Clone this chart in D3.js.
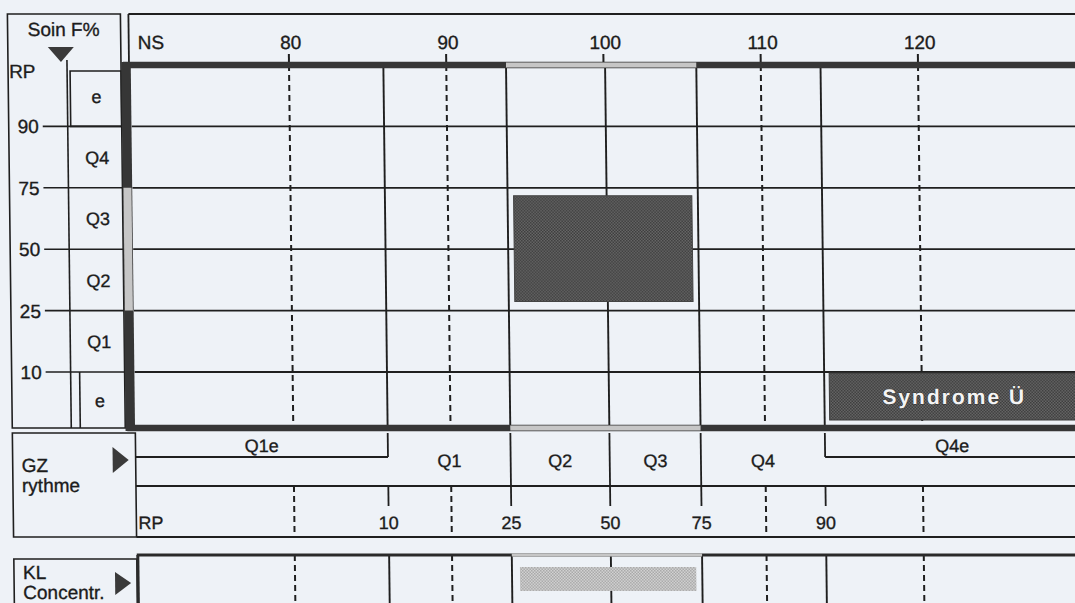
<!DOCTYPE html>
<html>
<head>
<meta charset="utf-8">
<script src="https://cdn.jsdelivr.net/npm/d3@7"></script>
<style>
  html, body { margin: 0; padding: 0; background: #eef2f7; }
  svg { display: block; }
  text { font-family: "Liberation Sans", Arial, sans-serif; fill: #1c1c1c; stroke: #1c1c1c; stroke-width: 0.35px; }
</style>
</head>
<body>
<div id="chart"></div>
<script>
// NS scale (top axis)
const nsTicks = [80, 90, 100, 110, 120];
// RP percentiles and where they fall on the NS scale
const rpTicks = [10, 25, 50, 75, 90];
const rpAsNs = [86.0, 93.8, 100.1, 105.9, 113.8];
// Soin F% rows, top to bottom, and their boundaries
const rowLabels = ["e", "Q4", "Q3", "Q2", "Q1", "e"];
const rowBounds = [90, 75, 50, 25, 10];
// GZ rythme bands
const gzBands = [
  { label: "Q1e", from: null, to: 10, sub: true },
  { label: "Q1", from: 10, to: 25 },
  { label: "Q2", from: 25, to: 50 },
  { label: "Q3", from: 50, to: 75 },
  { label: "Q4", from: 75, to: 90 },
  { label: "Q4e", from: 90, to: null, sub: true }
];
const centralRange = [25, 75];
const syndromeLabel = "Syndrome Ü";

const width = 1075, height = 603;
const gridLeft = 131, gridRight = 1080;
const gridTop = 65, gridBottom = 428;
const ink = "#1f1f1f", dark = "#363636", light = "#c6c6c6";
const fs = 19;

const svg = d3.select("#chart").append("svg")
  .attr("width", width).attr("height", height);
svg.append("rect").attr("width", width).attr("height", height).attr("fill", "#eef2f7");

// halftone-like fills
const defs = svg.append("defs");
const halftone = (id, a, b) => {
  const p = defs.append("pattern").attr("id", id).attr("width", 3).attr("height", 3)
    .attr("patternUnits", "userSpaceOnUse");
  p.append("rect").attr("width", 3).attr("height", 3).attr("fill", a);
  p.append("rect").attr("width", 1.5).attr("height", 1.5).attr("fill", b);
  p.append("rect").attr("x", 1.5).attr("y", 1.5).attr("width", 1.5).attr("height", 1.5).attr("fill", b);
};
halftone("darkDots", "#666", "#3e3e3e");
halftone("lightDots", "#d2d2d2", "#a9a9a9");

// scan is slightly sheared: lower parts drift right
const k = 0.0118;
const g = svg.append("g")
  .attr("transform", `translate(${-k * gridTop},0) skewX(${Math.atan(k) * 180 / Math.PI})`);

// Scales
const x = d3.scaleLinear().domain([80, 120]).range([289, 918]);
const rpX = d3.scaleLinear().domain(rpTicks).range(rpAsNs.map(v => x(v)));
const boundY = d3.scaleLinear().domain([0, rowBounds.length]).range([gridTop, 372]);
const boundOf = v => boundY(rowBounds.indexOf(v) + 1);
const rowTop = i => boundY(i);
const rowBottom = i => i < rowLabels.length - 1 ? boundY(i + 1) : gridBottom;

const line = (sel, x1, y1, x2, y2, w = 1.8, dash = null, col = ink) =>
  sel.append("line").attr("x1", x1).attr("y1", y1).attr("x2", x2).attr("y2", y2)
    .attr("stroke", col).attr("stroke-width", w).attr("stroke-dasharray", dash);
const label = (sel, tx, ty, txt, anchor = "start", size = fs) =>
  sel.append("text").attr("x", tx).attr("y", ty).attr("text-anchor", anchor)
    .attr("font-size", size).text(txt);

const dashedTicks = nsTicks.filter(t => d3.min(rpAsNs, r => Math.abs(x(r) - x(t))) > 5);

// ---------- Header ----------
line(g, 129, 14, gridRight, 14, 1.8);
line(g, 129, 14, 129, gridTop, 1.8);
label(g, 138, 49, "NS");
nsTicks.forEach(t => {
  label(g, x(t) + 2, 49, t, "middle");
  line(g, x(t), 54, x(t), gridTop, 2);
});

// ---------- Left "Soin F%" box ----------
g.append("rect").attr("x", 8).attr("y", 14).attr("width", 113).attr("height", gridBottom - 14)
  .attr("fill", "none").attr("stroke", ink).attr("stroke-width", 1.6);
label(g, 64, 36, "Soin F%", "middle");
g.append("path").attr("d", d3.line()([[48, 47], [74, 47], [61, 62]]) + "Z").attr("fill", "#3a3a3a");
line(g, 67, 60, 67, gridBottom, 1.6);
label(g, 9, 78, "RP");
rowBounds.forEach(v => {
  const y = boundOf(v);
  label(g, 38, y + 7, v, "end");
  line(g, 42, y, 121, y, 1.6);
});
// small boxes for the "e" rows
g.append("rect").attr("x", 70).attr("y", 71).attr("width", 51).attr("height", rowBottom(0) - 71)
  .attr("fill", "none").attr("stroke", ink).attr("stroke-width", 1.6);
line(g, 76, rowTop(5), 76, gridBottom, 1.6);
rowLabels.forEach((lab, i) => {
  label(g, 96, (rowTop(i) + rowBottom(i)) / 2 + 7, lab, "middle", 18);
});

// ---------- Main grid ----------
rowBounds.forEach(v => line(g, gridLeft, boundOf(v), gridRight, boundOf(v), 1.8));
dashedTicks.forEach(t => line(g, x(t), gridTop, x(t), gridBottom, 2, "6,4"));
rpTicks.forEach(r => line(g, rpX(r), gridTop, rpX(r), gridBottom, 1.9));

// central highlight
const pad = 6;
g.append("rect")
  .attr("x", rpX(centralRange[0]) + pad).attr("y", boundOf(centralRange[1]) + 8)
  .attr("width", rpX(centralRange[1]) - rpX(centralRange[0]) - 2 * pad)
  .attr("height", boundOf(centralRange[0]) - boundOf(centralRange[1]) - 17)
  .attr("fill", "url(#darkDots)").attr("stroke", "#444").attr("stroke-width", 1);

// Syndrome box
const synX = rpX(90) + 5, synY = boundOf(10) + 1, synH = gridBottom - 8 - synY;
g.append("rect").attr("x", synX).attr("y", synY).attr("width", gridRight - synX).attr("height", synH)
  .attr("fill", "url(#darkDots)").attr("stroke", "#3a3a3a").attr("stroke-width", 1);
g.append("text").attr("x", (synX + 1075) / 2).attr("y", synY + synH / 2 + 8)
  .attr("text-anchor", "middle").attr("font-size", 21).style("font-weight", "bold")
  .attr("letter-spacing", 2).style("fill", "#f4f4f4")
  .style("stroke", "#333").style("stroke-width", "0.8px").style("paint-order", "stroke")
  .text(syndromeLabel);

// thick borders: top, bottom, left
[gridTop, gridBottom].forEach(y => {
  line(g, gridLeft - 8, y, gridRight, y, 6.5, null, dark);
  line(g, rpX(centralRange[0]), y, rpX(centralRange[1]), y, 5, null, light);
});
line(g, 126, gridTop - 3, 126, gridBottom + 3, 9.5, null, dark);
line(g, 126, boundOf(centralRange[1]), 126, boundOf(centralRange[0]), 8, null, light);

// ---------- GZ rythme ----------
const gzTop = 433, gzSub = 457, gzMid = 486, gzBottom = 537;
g.append("rect").attr("x", 8).attr("y", gzTop).attr("width", gridLeft - 8).attr("height", gzBottom - gzTop)
  .attr("fill", "none").attr("stroke", ink).attr("stroke-width", 1.6);
label(g, 17, 472, "GZ");
label(g, 17, 492, "rythme");
g.append("path").attr("d", d3.line()([[108, 447], [108, 473], [124, 460]]) + "Z").attr("fill", "#3a3a3a");
line(g, gridLeft, gzMid, gridRight, gzMid, 1.8);
line(g, gridLeft, gzBottom, gridRight, gzBottom, 1.8);
gzBands.forEach(b => {
  const x0 = b.from == null ? gridLeft : rpX(b.from);
  const x1 = b.to == null ? 1075 : rpX(b.to);
  if (b.sub) {
    line(g, x0, gzSub, b.to == null ? gridRight : x1, gzSub, 1.8);
    line(g, b.from == null ? x1 : x0, gzTop, b.from == null ? x1 : x0, gzSub, 1.8);
    label(g, (x0 + x1) / 2, gzSub - 5, b.label, "middle", 18);
  } else {
    label(g, (x0 + x1) / 2, 467, b.label, "middle", 18);
  }
});
centralRange.concat([50]).forEach(r => line(g, rpX(r), gzTop, rpX(r), gzMid, 1.8));
rpTicks.forEach(r => {
  line(g, rpX(r), gzMid, rpX(r), 506, 1.8);
  label(g, rpX(r), 529, r, "middle", 18);
});
label(g, 133, 529, "RP", "start", 18);
dashedTicks.forEach(t => line(g, x(t), gzMid, x(t), gzBottom, 2, "6,4"));

// ---------- KL Concentr. ----------
const klTop = 555, klBottom = 610;
g.append("rect").attr("x", 8).attr("y", 559).attr("width", gridLeft - 8).attr("height", klBottom - 559)
  .attr("fill", "none").attr("stroke", ink).attr("stroke-width", 1.6);
label(g, 17, 579, "KL");
label(g, 17, 599, "Concentr.");
g.append("path").attr("d", d3.line()([[109, 572], [109, 595], [125, 583]]) + "Z").attr("fill", "#3a3a3a");
dashedTicks.forEach(t => line(g, x(t), klTop, x(t), klBottom, 2, "6,4"));
rpTicks.forEach(r => line(g, rpX(r), klTop, rpX(r), klBottom, 1.9));
g.append("rect").attr("x", rpX(centralRange[0]) + 8).attr("y", 567)
  .attr("width", rpX(centralRange[1]) - rpX(centralRange[0]) - 14).attr("height", 24)
  .attr("fill", "url(#lightDots)");
line(g, gridLeft, klTop, gridRight, klTop, 3, null, "#2a2a2a");
line(g, rpX(centralRange[0]), klTop, rpX(centralRange[1]), klTop, 3, null, light);
line(g, gridLeft + 1, klTop, gridLeft + 1, klBottom, 3, null, "#2a2a2a");
</script>
</body>
</html>
